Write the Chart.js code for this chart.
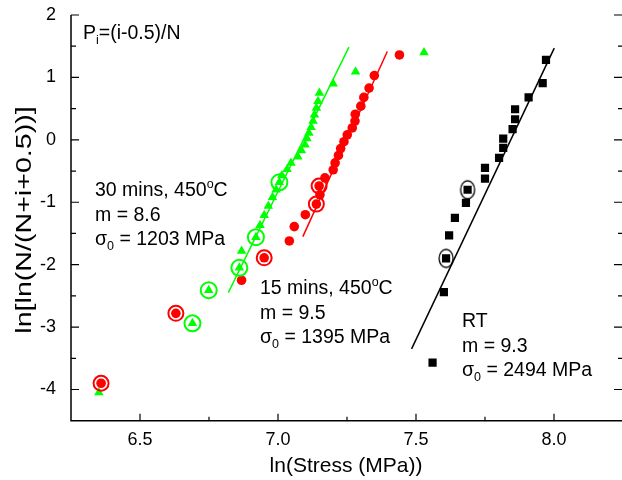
<!DOCTYPE html>
<html><head><meta charset="utf-8">
<script src="https://cdn.jsdelivr.net/npm/chart.js@4.4.0/dist/chart.umd.min.js"></script>
<style>html,body{margin:0;padding:0;background:#fff;overflow:hidden}</style>
</head><body>
<canvas id="c" width="622" height="480"></canvas>
<script>
// ---- data ----
const greenX = [6.351, 6.690, 6.749, 6.860, 6.868, 6.920, 6.935, 6.950, 6.965, 6.980, 6.993, 7.005, 7.014, 7.033, 7.047, 7.072, 7.085, 7.098, 7.105, 7.112, 7.120, 7.127, 7.132, 7.139, 7.145, 7.150, 7.200, 7.281, 7.529];
const greenY = [-4.05, -2.94, -2.41, -2.05, -1.78, -1.56, -1.37, -1.21, -1.06, -0.92, -0.80, -0.68, -0.57, -0.47, -0.37, -0.27, -0.17, -0.08, 0.02, 0.11, 0.20, 0.30, 0.40, 0.51, 0.62, 0.75, 0.90, 1.09, 1.40];
const greenCircled = [1, 2, 3, 5, 11];

const redX = [6.359, 6.630, 6.868, 6.950, 7.041, 7.059, 7.099, 7.139, 7.152, 7.149, 7.170, 7.200, 7.207, 7.219, 7.227, 7.239, 7.251, 7.269, 7.279, 7.280, 7.300, 7.311, 7.330, 7.349, 7.440];
const redY = [-3.90, -2.78, -2.25, -1.89, -1.62, -1.39, -1.20, -1.03, -0.88, -0.74, -0.61, -0.48, -0.37, -0.25, -0.14, -0.03, 0.08, 0.19, 0.30, 0.41, 0.54, 0.68, 0.83, 1.03, 1.36];
const redCircled = [0, 1, 3, 7, 9];

const blackX = [7.560, 7.601, 7.609, 7.620, 7.641, 7.681, 7.687, 7.750, 7.750, 7.801, 7.816, 7.816, 7.850, 7.859, 7.859, 7.908, 7.959, 7.971];
const blackY = [-3.57, -2.44, -1.90, -1.53, -1.25, -1.01, -0.80, -0.62, -0.45, -0.29, -0.13, 0.02, 0.17, 0.33, 0.49, 0.68, 0.91, 1.28];
const blackCircled = [2, 6];

const greenFitX = [6.820, 7.257], greenFitY = [-2.447, 1.486];
const redFitX = [7.090, 7.396], redFitY = [-1.550, 1.415];
const blackFitX = [7.484, 8.001], blackFitY = [-3.349, 1.470];

const xMajor = [6.5, 7.0, 7.5, 8.0];
const xMinor = [6.75, 7.25, 7.75];
const yMajor = [-4, -3, -2, -1, 0, 1, 2];
const yMinor = [-3.5, -2.5, -1.5, -0.5, 0.5, 1.5];

const xTitle = 'ln(Stress (MPa))';
const yTitle = 'ln[ln(N/(N+i+0.5))]';

// ---- build ----
const FONT = '"Liberation Sans", Arial, Helvetica, sans-serif';
const pts = (xs, ys) => xs.map((x, i) => ({x, y: ys[i]}));
const sub = (xs, ys, idx) => idx.map(i => ({x: xs[i], y: ys[i]}));
const GREEN = '#00ff00', RED = '#ff0000', BLACK = '#000000';

const ell = document.createElement('canvas');
ell.width = 18; ell.height = 22;
{ const g = ell.getContext('2d'); g.strokeStyle = '#000'; g.lineWidth = 1.3; g.beginPath(); g.ellipse(9, 11, 7, 9, 0, 0, Math.PI * 2); g.stroke(); }

function richText(ctx, x, y, segs) {
  let cx = x;
  for (const s of segs) {
    ctx.font = s.size + 'px ' + FONT;
    ctx.fillText(s.t, cx, y + (s.dy || 0));
    cx += ctx.measureText(s.t).width;
  }
}

const decor = {
  id: 'decor',
  beforeDatasetsDraw(chart) {
    const ctx = chart.ctx, xs = chart.scales.x, ys = chart.scales.y, a = chart.chartArea;
    ctx.save();
    ctx.strokeStyle = '#000';
    ctx.lineWidth = 1.5;
    ctx.beginPath();
    ctx.moveTo(a.left, ys.getPixelForValue(2));
    ctx.lineTo(a.left, a.bottom);
    ctx.lineTo(a.right, a.bottom);
    ctx.stroke();
    ctx.lineWidth = 1.2;
    ctx.beginPath();
    for (const v of xMajor) { const p = xs.getPixelForValue(v); ctx.moveTo(p, a.bottom); ctx.lineTo(p, a.bottom - 7); }
    for (const v of xMinor) { const p = xs.getPixelForValue(v); ctx.moveTo(p, a.bottom); ctx.lineTo(p, a.bottom - 4); }
    for (const v of yMajor) { const p = ys.getPixelForValue(v); ctx.moveTo(a.left, p); ctx.lineTo(a.left + 8, p); ctx.moveTo(a.right, p); ctx.lineTo(a.right - 8, p); }
    for (const v of yMinor) { const p = ys.getPixelForValue(v); ctx.moveTo(a.left, p); ctx.lineTo(a.left + 5, p); ctx.moveTo(a.right, p); ctx.lineTo(a.right - 4, p); }
    ctx.stroke();
    ctx.restore();
  },
  afterDraw(chart) {
    const ctx = chart.ctx;
    ctx.save();
    ctx.fillStyle = '#000';
    ctx.textBaseline = 'alphabetic';
    ctx.textAlign = 'left';
    const S = 19.5, s = 12.5;
    richText(ctx, 83, 39, [{t: 'P', size: S}, {t: 'i', size: s, dy: 5}, {t: '=(i-0.5)/N', size: S}]);

    richText(ctx, 95, 196, [{t: '30 mins, 450', size: S}, {t: 'o', size: s, dy: -8}, {t: 'C', size: S}]);
    richText(ctx, 95, 220.5, [{t: 'm = 8.6', size: S}]);
    richText(ctx, 95, 245, [{t: 'σ', size: S}, {t: '0', size: s, dy: 5}, {t: ' = 1203 MPa', size: S}]);

    richText(ctx, 260, 294, [{t: '15 mins, 450', size: S}, {t: 'o', size: s, dy: -8}, {t: 'C', size: S}]);
    richText(ctx, 260, 318.5, [{t: 'm = 9.5', size: S}]);
    richText(ctx, 260, 343, [{t: 'σ', size: S}, {t: '0', size: s, dy: 5}, {t: ' = 1395 MPa', size: S}]);

    richText(ctx, 462, 327, [{t: 'RT', size: S}]);
    richText(ctx, 462, 351.5, [{t: 'm = 9.3', size: S}]);
    richText(ctx, 462, 376, [{t: 'σ', size: S}, {t: '0', size: s, dy: 5}, {t: ' = 2494 MPa', size: S}]);

    ctx.textAlign = 'center';
    ctx.textBaseline = 'middle';
    ctx.font = '21px ' + FONT;
    ctx.fillText(xTitle, 346, 466);
    ctx.translate(25, 220);
    ctx.rotate(-Math.PI / 2);
    ctx.scale(1.3, 1);
    ctx.font = '22px ' + FONT;
    ctx.fillText(yTitle, 0, 0);
    ctx.restore();
  }
};

const lineDs = (xs, ys, c) => ({type: 'line', data: pts(xs, ys), borderColor: c, borderWidth: 1.5, pointRadius: 0, showLine: true, fill: false, order: 5});
const zeroPad = s => { s.paddingLeft = 0; s.paddingRight = 0; s.paddingTop = 0; s.paddingBottom = 0; };

new Chart(document.getElementById('c'), {
  type: 'scatter',
  data: {
    datasets: [
      lineDs(greenFitX, greenFitY, GREEN),
      lineDs(redFitX, redFitY, RED),
      lineDs(blackFitX, blackFitY, BLACK),
      {data: pts(greenX, greenY), pointStyle: 'triangle', radius: 5.5, backgroundColor: GREEN, borderColor: GREEN, borderWidth: 0, order: 4},
      {data: pts(redX, redY), pointStyle: 'circle', radius: 4.8, backgroundColor: RED, borderColor: RED, borderWidth: 0, order: 3},
      {data: pts(blackX, blackY), pointStyle: 'rect', radius: 5.8, backgroundColor: BLACK, borderColor: BLACK, borderWidth: 0, order: 3},
      {data: sub(greenX, greenY, greenCircled), pointStyle: 'circle', radius: 8, backgroundColor: 'rgba(0,0,0,0)', borderColor: GREEN, borderWidth: 2, order: 1},
      {data: sub(redX, redY, redCircled), pointStyle: 'circle', radius: 7.5, backgroundColor: 'rgba(0,0,0,0)', borderColor: RED, borderWidth: 2, order: 1},
      {data: sub(blackX, blackY, blackCircled), pointStyle: ell, order: 1}
    ]
  },
  options: {
    responsive: false, animation: false, devicePixelRatio: 1,
    layout: {autoPadding: false, padding: {top: 15, left: 0, right: 0, bottom: 0}},
    plugins: {legend: {display: false}, tooltip: {enabled: false}},
    elements: {point: {hoverRadius: 0}},
    scales: {
      x: {
        type: 'linear', min: 6.25, max: 8.2464,
        grid: {display: false, drawTicks: false}, border: {display: false},
        ticks: {font: {family: FONT, size: 18}, color: '#000', padding: 9, callback: v => v.toFixed(1)},
        afterBuildTicks: s => { s.ticks = xMajor.map(v => ({value: v})); },
        afterFit: s => { s.height = 59.3; zeroPad(s); }
      },
      y: {
        type: 'linear', min: -4.5, max: 2,
        grid: {display: false, drawTicks: false}, border: {display: false},
        ticks: {font: {family: FONT, size: 18}, color: '#000', padding: 15, callback: v => String(v)},
        afterBuildTicks: s => { s.ticks = yMajor.map(v => ({value: v})); },
        afterFit: s => { s.width = 71; zeroPad(s); }
      }
    }
  },
  plugins: [decor]
});
</script>
</body></html>
